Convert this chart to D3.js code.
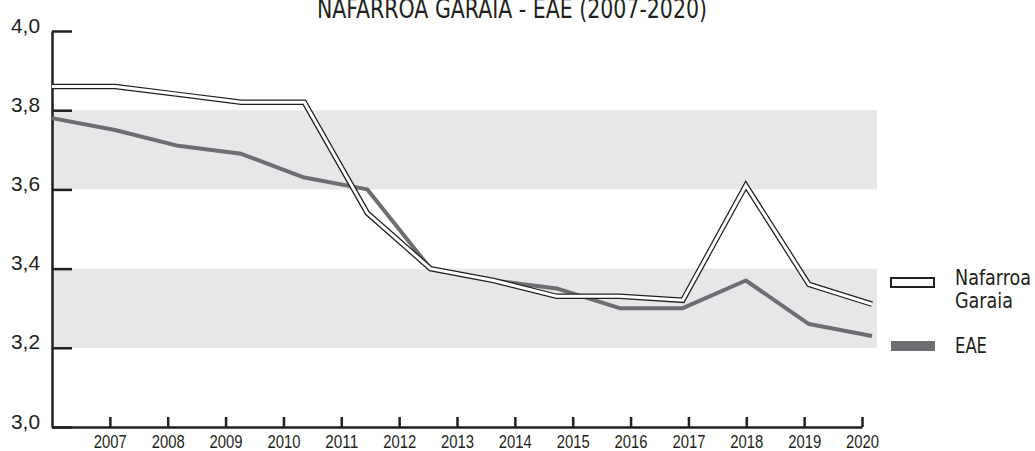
<!DOCTYPE html>
<html>
<head>
<meta charset="utf-8">
<script src="https://cdn.jsdelivr.net/npm/d3@7"></script>
<style>
  html, body { margin: 0; padding: 0; background: #fff; }
  svg { display: block; font-family: "DejaVu Sans Condensed", "DejaVu Sans", sans-serif; font-stretch: condensed; }
</style>
</head>
<body>
<svg id="chart" width="1035" height="451"></svg>
<script>
// Data
const years = [2007,2008,2009,2010,2011,2012,2013,2014,2015,2016,2017,2018,2019,2020];
const nafarroa = [3.86,3.86,3.84,3.82,3.82,3.54,3.40,3.37,3.33,3.33,3.32,3.61,3.36,3.31];
const eae = [3.78,3.75,3.71,3.69,3.63,3.60,3.40,3.37,3.35,3.30,3.30,3.37,3.26,3.23];
const yTicks = [3.0,3.2,3.4,3.6,3.8,4.0];
const bands = [[3.6,3.8],[3.2,3.4]];
const title = "NAFARROA GARAIA - EAE (2007-2020)";

const ink = "#231f20";
const grey = "#6d6e71";
const bandFill = "#e6e7e8";

const svg = d3.select('#chart');
const locale = d3.formatLocale({decimal: ",", thousands: ".", grouping: [3], currency: ["", "€"]});
const fmt = locale.format(".1f");

// squeeze text to the narrow width of the original face
function squeeze(sel, w) {
  sel.attr('textLength', w).attr('lengthAdjust', 'spacingAndGlyphs');
}

// Scales
const y = d3.scaleLinear().domain([3.0, 4.0]).range([427, 31]);
const xAxisScale = d3.scaleLinear().domain([2006, 2020]).range([52, 862]);   // ticks sit on their own grid
const xData = d3.scalePoint().domain(years).range([52, 872]);

// Background bands
svg.append('g').selectAll('rect').data(bands).join('rect')
  .attr('x', 52)
  .attr('width', 877 - 52)
  .attr('y', d => y(d[1]))
  .attr('height', d => y(d[0]) - y(d[1]))
  .attr('fill', bandFill);

// Axes
const yAxis = svg.append('g')
  .attr('transform', 'translate(52,0)')
  .call(d3.axisLeft(y).tickValues(yTicks).tickFormat(fmt).tickSizeInner(-20).tickSizeOuter(0).tickPadding(12));
yAxis.select('.domain').attr('stroke', ink).attr('stroke-width', 2.5);
yAxis.selectAll('.tick line').attr('stroke', ink).attr('stroke-width', 2.5);
yAxis.selectAll('.tick text')
  .attr('fill', ink).attr('font-size', 21).attr('dy', '0.05em')
  .style('font-family', 'inherit')
  .call(squeeze, 29);

const xAxis = svg.append('g')
  .attr('transform', 'translate(0,427)')
  .call(d3.axisBottom(xAxisScale).tickValues(years).tickFormat(d3.format('d')).tickSizeInner(-10).tickSizeOuter(0).tickPadding(8));
xAxis.select('.domain').attr('stroke', ink).attr('stroke-width', 2.5);
xAxis.selectAll('.tick line').attr('stroke', ink).attr('stroke-width', 2.5);
xAxis.selectAll('.tick text')
  .attr('fill', ink).attr('font-size', 18)
  .style('font-family', 'inherit')
  .call(squeeze, 33);

// Lines
const line = d3.line().x((d, i) => xData(years[i])).y(d => y(d));

svg.append('path')
  .datum(eae)
  .attr('d', line)
  .attr('fill', 'none')
  .attr('stroke', grey)
  .attr('stroke-width', 4)
  .attr('stroke-linejoin', 'round');

// double outline line: black underneath, white on top
svg.append('path')
  .datum(nafarroa)
  .attr('d', line)
  .attr('fill', 'none')
  .attr('stroke', ink)
  .attr('stroke-width', 5.5)
  .attr('stroke-linejoin', 'miter');
svg.append('path')
  .datum(nafarroa)
  .attr('d', line)
  .attr('fill', 'none')
  .attr('stroke', '#fff')
  .attr('stroke-width', 3)
  .attr('stroke-linejoin', 'miter');

// Title
svg.append('text')
  .attr('x', 512)
  .attr('y', 18)
  .attr('text-anchor', 'middle')
  .attr('font-size', 27)
  .attr('fill', ink)
  .text(title)
  .call(squeeze, 390);

// Legend
const legend = svg.append('g');
legend.append('rect')
  .attr('x', 891).attr('y', 278).attr('width', 43).attr('height', 9)
  .attr('fill', '#fff').attr('stroke', ink).attr('stroke-width', 2);
legend.append('text')
  .attr('x', 955).attr('y', 285)
  .attr('font-size', 22).attr('fill', ink)
  .text('Nafarroa')
  .call(squeeze, 76);
legend.append('text')
  .attr('x', 955).attr('y', 308)
  .attr('font-size', 22).attr('fill', ink)
  .text('Garaia')
  .call(squeeze, 58);

legend.append('rect')
  .attr('x', 891).attr('y', 341).attr('width', 44).attr('height', 10)
  .attr('fill', grey);
legend.append('text')
  .attr('x', 955).attr('y', 353)
  .attr('font-size', 21).attr('fill', ink)
  .text('EAE')
  .call(squeeze, 32);
</script>
</body>
</html>
